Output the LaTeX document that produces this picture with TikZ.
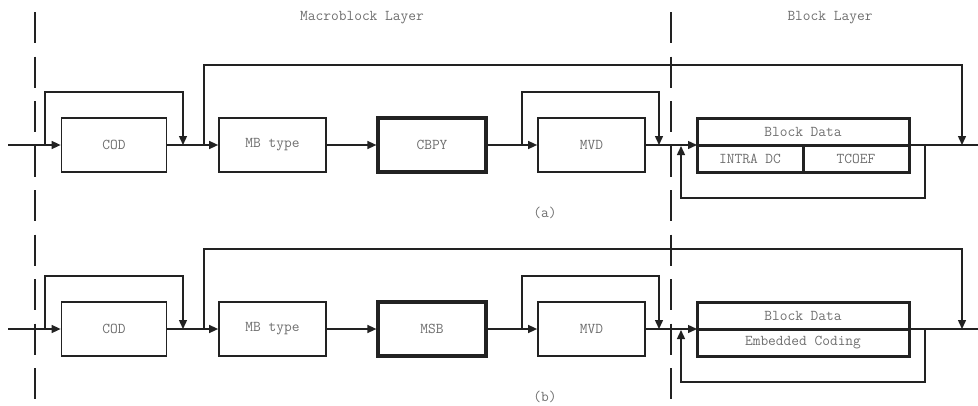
\documentclass[tikz,border=0pt]{standalone}
\usepackage{fontspec}
\usetikzlibrary{arrows.meta,calc}
\definecolor{ink}{HTML}{222222}
\definecolor{txt}{HTML}{6E6E6E}
\newcommand{\lblfont}{\ttfamily\fontsize{15}{17}\selectfont}
\tikzset{
  ln/.style={draw=ink,line width=1.4pt},
  arr/.style={ln,-{Triangle[length=9pt,width=8pt]}},
  box/.style={draw=ink,line width=1.7pt,minimum height=54pt,inner sep=0pt,
    font=\lblfont,text=txt},
  thickbox/.style={box,line width=3.2pt},
  cell/.style={draw=ink,line width=3pt,inner sep=0pt,minimum height=27pt,
    font=\lblfont,text=txt},
  lbl/.style={font=\lblfont,text=txt,inner sep=0pt},
  dsh/.style={draw=ink,line width=1.5pt,dash pattern=on 31pt off 13.5pt}
}
\begin{document}
\begin{tikzpicture}[x=1pt,y=-1pt]
\useasboundingbox (0,0) rectangle (978,405);
% dashed separators
\coordinate (dLt) at (35,12); \coordinate (dLb) at (35,402);
\coordinate (dRt) at (671,12); \coordinate (dRb) at (671,402);
\draw[dsh] (dLt) -- (dLb);
\draw[dsh] (dRt) -- (dRb);
\node[lbl] (mbl) at (362,18) {Macroblock Layer};
\node[lbl] (bll) at (830,18) {Block Layer};

% ---------- panel (a) ----------
\begin{scope}
\node[box,minimum width=105pt] (cod) at (114,145) {COD};
\node[box,minimum width=107pt] (mbt) at (272.5,145) {MB type};
\node[thickbox,minimum width=108pt] (cbpy) at (432,145) {CBPY};
\node[box,minimum width=107pt] (mvd) at (591.5,145) {MVD};
\node[cell,minimum width=212pt] (bd) at (803,131.5) {Block Data};
\node[cell,minimum width=106pt] (idc) at (750,158.5) {INTRA DC};
\node[cell,minimum width=106pt] (tco) at (856,158.5) {TCOEF};
\node[lbl] (capa) at (545,213) {(a)};
\coordinate (in) at (8,145);
\coordinate (b1s) at (45,145); \coordinate (b1e) at (183,145);
\coordinate (b2s) at (204,145); \coordinate (b2e) at (962,145);
\coordinate (b3s) at (522,145); \coordinate (b3e) at (659,145);
\coordinate (lps) at (925,145); \coordinate (lpe) at (681,146);
\coordinate (bdin) at (697,145); \coordinate (bdout) at (909,145);
\coordinate (out) at (978,145);
\draw[arr] (in) -- (cod.west);
\draw[arr] (b1s) |- (45,92) -| (b1e);
\draw[arr] (cod.east) -- (mbt.west);
\draw[arr] (b2s) |- (204,65) -| (b2e);
\draw[arr] (mbt.east) -- (cbpy.west);
\draw[arr] (cbpy.east) -- (mvd.west);
\draw[arr] (b3s) |- (522,92) -| (b3e);
\draw[arr] (mvd.east) -- (bdin);
\draw[arr] (lps) |- (925,198) -| (lpe);
\draw[ln] (bdout) -- (out);
\end{scope}

% ---------- panel (b) ----------
\begin{scope}[yshift=-184pt]
\node[box,minimum width=105pt] (codb) at (114,145) {COD};
\node[box,minimum width=107pt] (mbtb) at (272.5,145) {MB type};
\node[thickbox,minimum width=108pt] (msb) at (432,145) {MSB};
\node[box,minimum width=107pt] (mvdb) at (591.5,145) {MVD};
\node[cell,minimum width=212pt] (bdb) at (803,131.5) {Block Data};
\node[cell,minimum width=212pt] (emb) at (803,158.5) {Embedded Coding};
\node[lbl] (capb) at (545,213) {(b)};
\coordinate (inb) at (8,145);
\coordinate (c1s) at (45,145); \coordinate (c1e) at (183,145);
\coordinate (c2s) at (204,145); \coordinate (c2e) at (962,145);
\coordinate (c3s) at (522,145); \coordinate (c3e) at (659,145);
\coordinate (mps) at (925,145); \coordinate (mpe) at (681,146);
\coordinate (bdinb) at (697,145); \coordinate (bdoutb) at (909,145);
\coordinate (outb) at (978,145);
\draw[arr] (inb) -- (codb.west);
\draw[arr] (c1s) |- (45,92) -| (c1e);
\draw[arr] (codb.east) -- (mbtb.west);
\draw[arr] (c2s) |- (204,65) -| (c2e);
\draw[arr] (mbtb.east) -- (msb.west);
\draw[arr] (msb.east) -- (mvdb.west);
\draw[arr] (c3s) |- (522,92) -| (c3e);
\draw[arr] (mvdb.east) -- (bdinb);
\draw[arr] (mps) |- (925,198) -| (mpe);
\draw[ln] (bdoutb) -- (outb);
\end{scope}
\end{tikzpicture}
\end{document}
